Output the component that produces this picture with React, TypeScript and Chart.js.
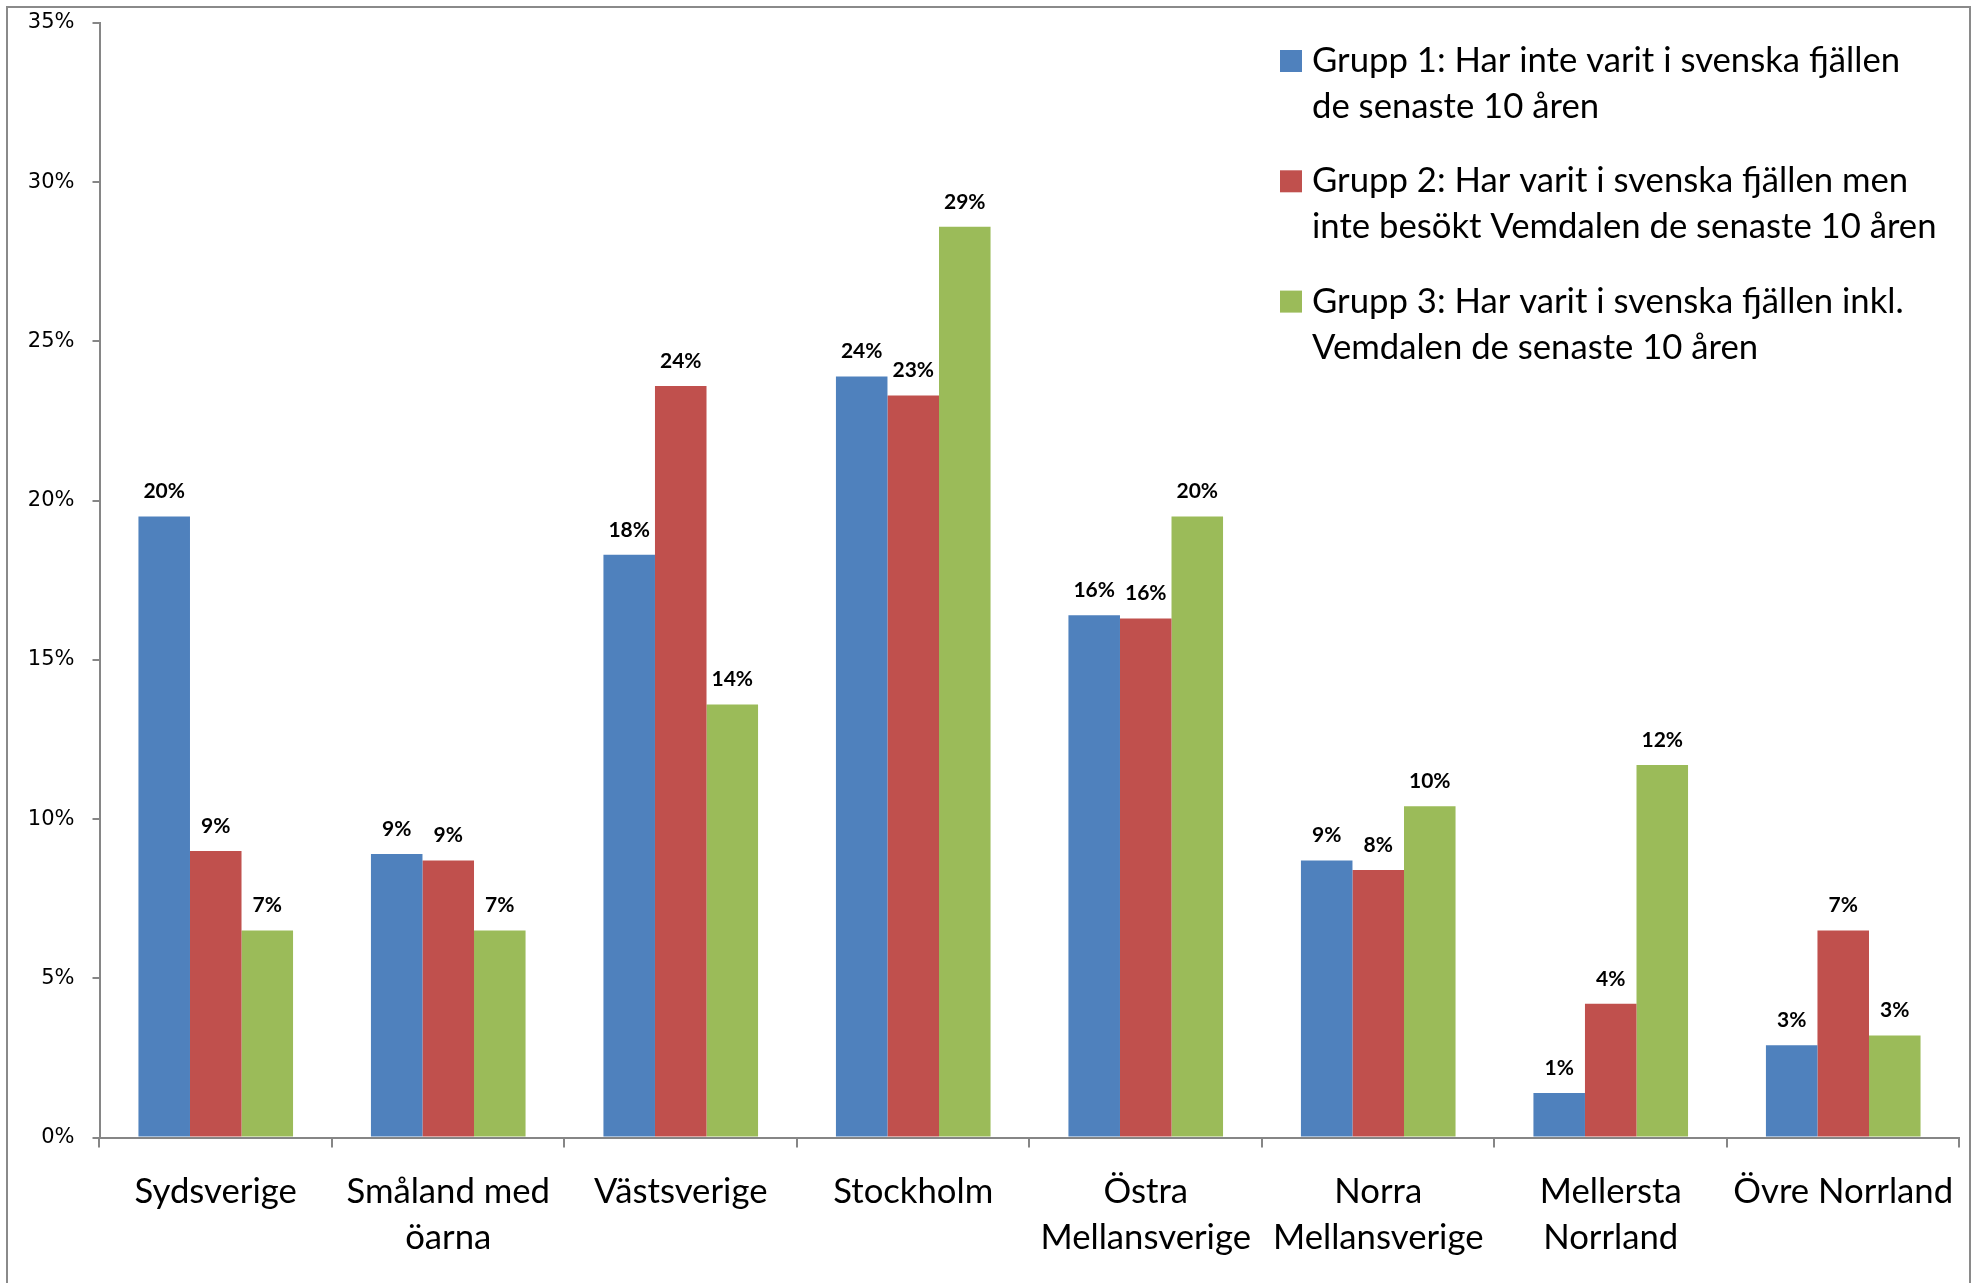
import React, { useEffect, useRef } from 'react';
import { Chart, registerables } from 'chart.js';

Chart.register(...registerables);

// ---- Data ----
const categories: string[][] = [
  ['Sydsverige'],
  ['Småland med', 'öarna'],
  ['Västsverige'],
  ['Stockholm'],
  ['Östra', 'Mellansverige'],
  ['Norra', 'Mellansverige'],
  ['Mellersta', 'Norrland'],
  ['Övre Norrland'],
];

const seriesNames: string[][] = [
  ['Grupp 1: Har inte varit i svenska fjällen', 'de senaste 10 åren'],
  ['Grupp 2: Har varit i svenska fjällen men', 'inte besökt Vemdalen de senaste 10 åren'],
  ['Grupp 3: Har varit i svenska fjällen inkl.', 'Vemdalen de senaste 10 åren'],
];

const grupp1: number[] = [19.5, 8.9, 18.3, 23.9, 16.4, 8.7, 1.4, 2.9];
const grupp2: number[] = [9.0, 8.7, 23.6, 23.3, 16.3, 8.4, 4.2, 6.5];
const grupp3: number[] = [6.5, 6.5, 13.6, 28.6, 19.5, 10.4, 11.7, 3.2];

const seriesColors: string[] = ['#4F81BD', '#C0504D', '#9BBB59'];

const yMin = 0;
const yMax = 35;
const yStep = 5;

const W = 1975;
const H = 1283;

const framePlugin = {
  id: 'frame',
  beforeDraw(chart: any) {
    const ctx = chart.ctx;
    ctx.save();
    ctx.fillStyle = '#ffffff';
    ctx.fillRect(0, 0, chart.width, chart.height);
    ctx.strokeStyle = '#8a8a8a';
    ctx.lineWidth = 2;
    ctx.strokeRect(7, 7, 1963, 1400);
    ctx.restore();
  },
};

const dataLabelPlugin = {
  id: 'dataLabels',
  afterDatasetsDraw(chart: any) {
    const ctx = chart.ctx;
    ctx.save();
    ctx.font = 'bold 21px Lato';
    ctx.fillStyle = '#000000';
    ctx.textAlign = 'center';
    ctx.textBaseline = 'middle';
    chart.data.datasets.forEach((ds: any, di: number) => {
      const meta = chart.getDatasetMeta(di);
      meta.data.forEach((el: any, i: number) => {
        const v = ds.data[i] as number;
        ctx.fillText(Math.round(v) + '%', el.x, el.y - 25);
      });
    });
    ctx.restore();
  },
};

const legendPlugin = {
  id: 'customLegend',
  afterDraw(chart: any) {
    const ctx = chart.ctx;
    ctx.save();
    const boxX = 1280;
    const boxSize = 22;
    const textX = 1312;
    const firstY = 61;
    const lineGap = 46;
    const itemGap = 120.3;
    ctx.font = '34.7px Lato';
    ctx.textAlign = 'left';
    ctx.textBaseline = 'middle';
    chart.data.datasets.forEach((ds: any, di: number) => {
      const y0 = firstY + di * itemGap;
      ctx.fillStyle = ds.backgroundColor;
      ctx.fillRect(boxX, y0 - boxSize / 2, boxSize, boxSize);
      ctx.fillStyle = '#000000';
      const lines: string[] = ds.legendLines;
      lines.forEach((line: string, li: number) => {
        ctx.fillText(line, textX, y0 + li * lineGap);
      });
    });
    ctx.restore();
  },
};

export default function App() {
  const canvasRef = useRef<HTMLCanvasElement | null>(null);

  useEffect(() => {
    if (!canvasRef.current) return;
    const series = [grupp1, grupp2, grupp3];
    const chart = new Chart(canvasRef.current, {
      type: 'bar',
      data: {
        labels: categories,
        datasets: series.map((d, i) => ({
          label: seriesNames[i].join(' '),
          legendLines: seriesNames[i],
          data: d,
          backgroundColor: seriesColors[i],
          borderWidth: 0,
          categoryPercentage: 0.665,
          barPercentage: 1.0,
        })) as any,
      },
      options: {
        responsive: false,
        animation: false,
        devicePixelRatio: 1,
        layout: { padding: { left: 0, top: 23, right: 14, bottom: 0 } },
        plugins: {
          legend: { display: false },
          tooltip: { enabled: false },
        },
        scales: {
          x: {
            offset: true,
            grid: {
              display: true,
              offset: true,
              drawOnChartArea: false,
              drawTicks: true,
              tickLength: 10,
              color: '#868686',
              lineWidth: 2,
            },
            border: { display: true, color: '#868686', width: 2 },
            ticks: {
              color: '#000000',
              font: { family: 'Lato', size: 34.7, lineHeight: 1.33 },
              padding: 21,
              maxRotation: 0,
              minRotation: 0,
              autoSkip: false,
            },
            afterFit: (s: any) => {
              s.height = H - 1137.5;
            },
          },
          y: {
            min: yMin,
            max: yMax,
            ticks: {
              stepSize: yStep,
              color: '#000000',
              font: { family: 'DejaVu Sans', size: 21 },
              padding: 18,
              callback: (v: any) => v + '%',
            },
            grid: {
              display: true,
              drawOnChartArea: false,
              drawTicks: true,
              tickLength: 7,
              color: '#868686',
              lineWidth: 2,
            },
            border: { display: true, color: '#868686', width: 2 },
            afterFit: (s: any) => {
              s.width = 99.5;
              s.paddingTop = 12;
              s.paddingBottom = 12;
            },
          },
        },
      },
      plugins: [framePlugin, dataLabelPlugin, legendPlugin],
    } as any);
    return () => chart.destroy();
  }, []);

  return (
    <div style={{ position: 'absolute', left: 0, top: 0, width: W, height: H, background: '#fff' }}>
      <canvas ref={canvasRef} width={W} height={H} style={{ display: 'block' }} />
    </div>
  );
}
